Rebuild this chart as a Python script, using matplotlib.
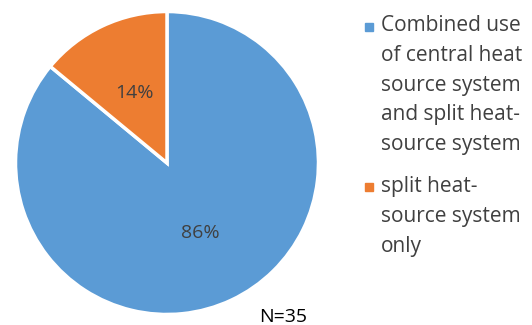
import matplotlib
matplotlib.use('Agg')
import matplotlib.pyplot as plt
from matplotlib.patches import Rectangle

# data
labels = ["Combined use\nof central heat\nsource system\nand split heat-\nsource system",
          "split heat-\nsource system\nonly"]
shares = [86, 14]
colors = ['#5B9BD5', '#ED7D31']
note = "N=35"

plt.rcParams['font.family'] = ['Open Sans', 'DejaVu Sans']
text_color = '#404040'

fig = plt.figure(figsize=(5.32, 3.25), dpi=100)
ax = fig.add_axes([14 / 532, 9 / 325, 306 / 532, 306 / 325])
wedges, texts = ax.pie(shares, colors=colors, startangle=90, counterclock=False,
                       labels=[f"{s}%" for s in shares], labeldistance=0.51,
                       wedgeprops=dict(edgecolor='white', linewidth=2.5),
                       textprops=dict(color=text_color, fontsize=14))
for t in texts:
    t.set_ha('center')
ax.set_xlim(-1.01, 1.01)
ax.set_ylim(-1.01, 1.01)
ax.set_aspect('equal')

# legend drawn by hand so the square sits on the first line
text_top = [15, 176]
box_top = [23, 183]
for lab, c, ty, by in zip(labels, colors, text_top, box_top):
    fig.patches.append(Rectangle((365 / 532, 1 - (by + 8) / 325), 8 / 532, 8 / 325,
                                 transform=fig.transFigure, color=c))
    fig.text(381 / 532, 1 - ty / 325, lab, ha='left', va='top', fontsize=15,
             color=text_color, linespacing=1.55)

fig.text(283 / 532, 3 / 325, note, ha='center', va='baseline', fontsize=14, color='black')

fig.savefig('out.png', dpi=100)
